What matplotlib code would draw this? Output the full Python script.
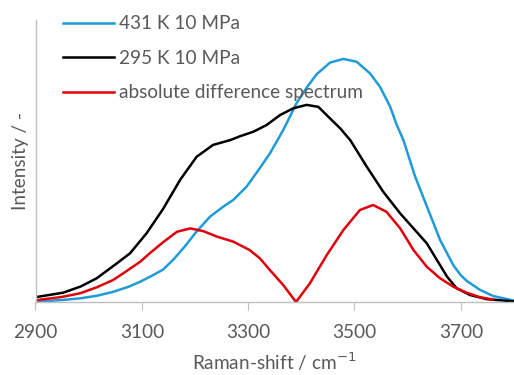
import matplotlib
matplotlib.use("Agg")
import matplotlib.pyplot as plt

# data
x_blue = [2900, 2950, 2984, 3015, 3046, 3075, 3097, 3120, 3140, 3160, 3180, 3203, 3228, 3253, 3272, 3297, 3322, 3341,
          3366, 3391, 3410, 3429, 3454, 3479, 3504, 3529, 3548, 3567, 3579, 3592, 3614, 3638, 3661, 3686, 3700, 3711, 3736, 3761, 3800]
y_blue = [0.001, 0.007, 0.013, 0.022, 0.036, 0.054, 0.072, 0.094, 0.115, 0.152, 0.195, 0.25, 0.302, 0.338, 0.362, 0.409, 0.475, 0.527,
          0.61, 0.705, 0.76, 0.808, 0.849, 0.862, 0.852, 0.811, 0.763, 0.693, 0.63, 0.574, 0.445, 0.33, 0.22, 0.13, 0.095, 0.075, 0.043, 0.021, 0.005]

x_black = [2900, 2952, 2985, 3015, 3053, 3078, 3109, 3140, 3172, 3203, 3234, 3266, 3285, 3310, 3335, 3360, 3385,
           3410, 3432, 3454, 3473, 3492, 3523, 3554, 3586, 3611, 3636, 3655, 3674, 3692, 3717, 3749, 3800]
y_black = [0.017, 0.033, 0.055, 0.084, 0.137, 0.173, 0.244, 0.33, 0.433, 0.515, 0.557, 0.574, 0.588, 0.604, 0.628, 0.663, 0.687,
           0.699, 0.692, 0.651, 0.616, 0.574, 0.48, 0.391, 0.314, 0.261, 0.208, 0.149, 0.09, 0.049, 0.025, 0.01, 0.002]

x_red = [2900, 2950, 2984, 3015, 3046, 3070, 3097, 3115, 3140, 3166, 3191, 3216, 3241, 3272, 3303, 3322, 3341, 3366, 3390,
         3416, 3448, 3479, 3510, 3535, 3560, 3586, 3611, 3636, 3661, 3686, 3711, 3736, 3760]
y_red = [0.006, 0.018, 0.031, 0.052, 0.078, 0.108, 0.143, 0.173, 0.212, 0.249, 0.261, 0.251, 0.232, 0.214, 0.184, 0.155, 0.113, 0.06, 0.0,
         0.066, 0.167, 0.255, 0.326, 0.344, 0.32, 0.261, 0.184, 0.125, 0.084, 0.054, 0.033, 0.017, 0.009]

labels = ["431 K 10 MPa", "295 K 10 MPa", "absolute difference spectrum"]
xticks = [2900, 3100, 3300, 3500, 3700]

plt.rcParams['font.family'] = ['Lato', 'DejaVu Sans']
grey = '#595959'
fs = 13.7

fig = plt.figure(figsize=(5.14, 3.75), dpi=100)
ax = fig.add_axes([35.5/514, (375-302)/375, (514-35.5)/514, (302-20)/375])

lb, = ax.plot(x_blue, y_blue, color='#1f9bd7', lw=1.8, label=labels[0], solid_joinstyle='round')
lk, = ax.plot(x_black, y_black, color='#000000', lw=1.8, label=labels[1], solid_joinstyle='round')
lr, = ax.plot(x_red, y_red, color='#e0000b', lw=1.8, label=labels[2], solid_joinstyle='round')

ax.set_xlim(2900, 3800)
ax.set_ylim(0, 1.0)
ax.set_xticks(xticks)
ax.set_yticks([])
for s in ['top', 'right']:
    ax.spines[s].set_visible(False)
for s in ['left', 'bottom']:
    ax.spines[s].set_color('#bfbfbf')
    ax.spines[s].set_linewidth(1.0)
ax.tick_params(axis='x', direction='out', length=6, color='#bfbfbf', labelcolor=grey, labelsize=fs, pad=10)
ax.set_xlabel('Raman-shift / cm$^{-1}$', color=grey, fontsize=fs, labelpad=7)
ax.set_ylabel('Intensity / -', color=grey, fontsize=fs, labelpad=5)

leg = ax.legend(handles=[lb, lk, lr], loc='upper left', bbox_to_anchor=(52/514, 1 - 4/375),
                bbox_transform=fig.transFigure, frameon=False, fontsize=fs,
                handlelength=2.67, handletextpad=0.25, labelspacing=0.92, borderpad=0.1,
                labelcolor=grey)
leg.set_zorder(5)

fig.savefig('out.png', dpi=100)
